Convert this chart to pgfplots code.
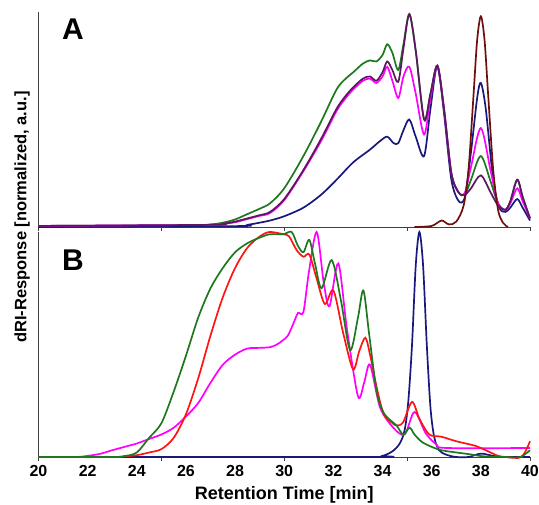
\documentclass[border=0pt]{standalone}
\usepackage{fontspec}
\setmainfont{Liberation Sans}
\usepackage{pgfplots}
\pgfplotsset{compat=1.18}
\definecolor{cgreen}{RGB}{30,120,30}
\definecolor{cmag}{RGB}{255,0,255}
\definecolor{cnavy}{RGB}{25,25,125}
\definecolor{cpurple}{RGB}{90,25,95}
\definecolor{cbrown}{RGB}{110,15,15}
\definecolor{cred}{RGB}{255,20,20}
\pgfplotsset{panel/.style={
  scale only axis, width=491.5pt,
  xmin=20, xmax=40, ymin=0, ymax=1.0,
  axis x line*=bottom, axis y line*=left,
  axis line style={-, draw=black!75, line width=0.9pt},
  ytick=\empty,
  xtick={20,25,30,35,40}, xticklabels={},
  tick align=outside, major tick length=4pt,
  tick style={draw=black!75, line width=0.9pt},
  clip=false,
  every axis plot/.append style={smooth, line width=1.7pt, no markers},
}}
\begin{document}
\begin{tikzpicture}
\useasboundingbox (0,0) rectangle (539pt,505pt);
% Panel A
\begin{axis}[panel, height=215pt, at={(38.5pt,278pt)}, anchor=south west]
\addplot[cgreen] coordinates {(20,0.005) (26,0.008) (27,0.012) (27.5,0.02) (28,0.035) (28.5,0.06) (29,0.085) (29.42,0.11) (30,0.18) (30.78,0.33) (31.5,0.49) (32.13,0.64) (32.5,0.69) (32.81,0.72) (33.2,0.76) (33.49,0.775) (33.75,0.77) (34.0,0.80) (34.19,0.85) (34.4,0.81) (34.64,0.73) (34.85,0.85) (35.09,0.99) (35.35,0.82) (35.69,0.50) (35.95,0.62) (36.23,0.75) (36.5,0.55) (36.8,0.25) (37.1,0.16) (37.35,0.15) (37.6,0.22) (38.0,0.33) (38.4,0.21) (38.7,0.11) (39.0,0.08) (39.2,0.12) (39.48,0.22) (39.7,0.14) (40,0.04)};
\addplot[cnavy] coordinates {(20,0.0) (28,0.004) (28.5,0.01) (29,0.02) (29.42,0.03) (30,0.05) (30.78,0.09) (31.5,0.15) (32.13,0.22) (32.8,0.30) (33.49,0.36) (33.9,0.40) (34.19,0.42) (34.45,0.39) (34.64,0.39) (34.85,0.45) (35.09,0.50) (35.35,0.42) (35.69,0.33) (35.95,0.55) (36.23,0.75) (36.5,0.53) (36.8,0.22) (37.1,0.12) (37.35,0.14) (37.6,0.35) (37.85,0.60) (38.0,0.67) (38.2,0.55) (38.5,0.22) (38.75,0.09) (39.0,0.07) (39.2,0.09) (39.48,0.13) (39.7,0.09) (40,0.03)};
\addplot[cmag] coordinates {(20,0.005) (27,0.01) (27.5,0.014) (28,0.022) (28.5,0.037) (29,0.052) (29.42,0.065) (30,0.125) (30.78,0.26) (31.5,0.40) (32.13,0.54) (32.5,0.60) (32.81,0.64) (33.2,0.68) (33.49,0.69) (33.75,0.67) (34.0,0.70) (34.19,0.745) (34.4,0.68) (34.64,0.60) (34.85,0.70) (35.09,0.745) (35.35,0.62) (35.69,0.43) (35.95,0.60) (36.23,0.75) (36.5,0.55) (36.8,0.25) (37.1,0.16) (37.35,0.16) (37.6,0.28) (38.0,0.46) (38.4,0.26) (38.7,0.11) (39.0,0.08) (39.2,0.11) (39.48,0.18) (39.7,0.12) (40,0.04)};
\addplot[cpurple] coordinates {(20,0.005) (27,0.01) (27.5,0.015) (28,0.025) (28.5,0.04) (29,0.055) (29.42,0.07) (30,0.13) (30.78,0.265) (31.5,0.41) (32.13,0.55) (32.5,0.61) (32.81,0.65) (33.2,0.69) (33.49,0.70) (33.75,0.68) (34.0,0.72) (34.19,0.77) (34.4,0.73) (34.64,0.675) (34.85,0.83) (35.09,0.99) (35.35,0.82) (35.69,0.50) (35.95,0.62) (36.23,0.75) (36.5,0.55) (36.8,0.25) (37.1,0.16) (37.35,0.15) (37.6,0.18) (38.0,0.24) (38.4,0.16) (38.7,0.10) (39.0,0.08) (39.2,0.12) (39.48,0.22) (39.7,0.14) (40,0.04)};
\addplot[cbrown] coordinates {(35.3,0.0) (36.0,0.005) (36.4,0.03) (36.7,0.012) (37.0,0.025) (37.3,0.10) (37.5,0.27) (37.7,0.61) (37.85,0.87) (38.0,0.98) (38.15,0.87) (38.3,0.61) (38.5,0.27) (38.7,0.08) (38.9,0.02) (39.1,0.0)};
\end{axis}
% Panel B
\begin{axis}[panel, height=225pt, at={(38.5pt,48pt)}, anchor=south west,
  extra x ticks={20,22,...,40},
  extra x tick style={major tick length=0pt},
  x tick label style={font=\fontsize{16}{16}\selectfont\bfseries, yshift=-5pt},
  /pgf/number format/assume math mode=true,
  xlabel={Retention Time [min]},
  xlabel style={font=\fontsize{18}{18}\selectfont\bfseries, yshift=1pt},
]
\addplot[cnavy] coordinates {(20,0) (33.5,0) (34.0,0.005) (34.4,0.025) (34.7,0.06) (34.9,0.12) (35.05,0.25) (35.2,0.5) (35.35,0.85) (35.5,1.0) (35.65,0.85) (35.8,0.5) (35.95,0.22) (36.1,0.09) (36.3,0.03) (36.6,0.01) (37,0.0) (37.5,0.0) (38.0,0.015) (38.5,0.005) (39,0) (40,0)};
\addplot[cmag] coordinates {(20,0.0) (21.5,0.0) (22,0.005) (22.5,0.014) (23,0.03) (23.5,0.045) (24,0.06) (24.5,0.08) (25,0.10) (25.5,0.13) (26,0.18) (26.5,0.24) (27,0.33) (27.5,0.41) (28,0.455) (28.5,0.482) (29,0.485) (29.42,0.488) (29.7,0.50) (29.96,0.52) (30.15,0.54) (30.36,0.59) (30.56,0.64) (30.78,0.645) (31.0,0.82) (31.32,1.0) (31.6,0.78) (31.84,0.67) (32.2,0.86) (32.55,0.57) (33.0,0.27) (33.25,0.33) (33.49,0.41) (33.9,0.22) (34.44,0.13) (34.9,0.10) (35.3,0.20) (35.76,0.105) (36.2,0.055) (36.6,0.04) (40,0.04)};
\addplot[cred] coordinates {(20,0) (23,0) (23.5,0.003) (24,0.008) (24.5,0.02) (25,0.035) (25.5,0.085) (26,0.19) (26.5,0.35) (27,0.54) (27.5,0.71) (28,0.84) (28.5,0.93) (29,0.98) (29.4,1.0) (29.96,0.99) (30.2,0.98) (30.5,0.92) (30.78,0.89) (31.02,0.90) (31.3,0.80) (31.65,0.68) (32.0,0.74) (32.4,0.55) (32.8,0.39) (33.05,0.47) (33.3,0.53) (33.5,0.45) (33.76,0.31) (34.03,0.195) (34.3,0.16) (34.57,0.14) (34.84,0.155) (35.2,0.245) (35.5,0.17) (35.9,0.10) (36.4,0.09) (37.0,0.07) (37.76,0.05) (38.2,0.03) (38.7,0.005) (39.0,0.0) (39.65,0.0) (40,0.07)};
\addplot[cgreen] coordinates {(20,0) (23,0.0) (23.5,0.004) (24,0.02) (24.5,0.085) (25,0.15) (25.5,0.29) (26,0.45) (26.5,0.62) (27,0.75) (27.5,0.84) (28,0.91) (28.5,0.95) (29,0.975) (29.42,0.99) (29.96,0.99) (30.3,1.0) (30.55,0.94) (30.78,0.91) (31.02,0.965) (31.25,0.86) (31.52,0.75) (31.93,0.875) (32.3,0.70) (32.68,0.475) (33.0,0.62) (33.22,0.74) (33.45,0.55) (33.76,0.29) (34.03,0.20) (34.3,0.165) (34.57,0.14) (34.84,0.10) (35.1,0.13) (35.3,0.10) (35.6,0.067) (36.0,0.045) (36.4,0.03) (37.0,0.02) (37.5,0.013) (38.1,0.003) (39,0.0) (39.6,0.0) (40,0.03)};
\end{axis}
\node[rotate=90, font=\fontsize{16.5}{17}\selectfont\bfseries] at (22pt,288pt) {dRI-Response [normalized, a.u.]};
\node[font=\fontsize{30}{30}\selectfont\bfseries] at (73pt,476pt) {A};
\node[font=\fontsize{30}{30}\selectfont\bfseries] at (73pt,245pt) {B};
\end{tikzpicture}
\end{document}
